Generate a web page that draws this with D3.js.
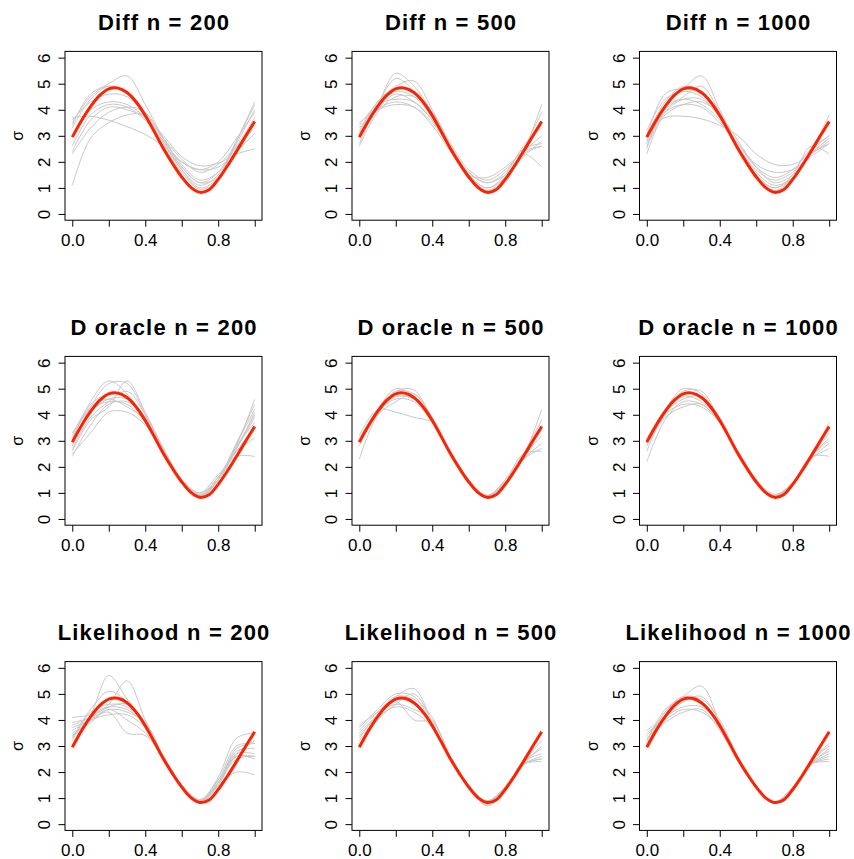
<!DOCTYPE html>
<html><head><meta charset="utf-8">
<script src="https://cdn.jsdelivr.net/npm/d3@7"></script>
<style>body{margin:0;background:#fff} svg{display:block}</style>
</head><body>
<svg id="c" width="854" height="859"></svg>
<script>
// ---------- data ----------
const methods = ["Diff", "D oracle", "Likelihood"];
const sizes = [200, 500, 1000];
const yTicks = [0, 1, 2, 3, 4, 5, 6];
const xTicks = [0, 0.2, 0.4, 0.6, 0.8, 1.0];
const xTickLabels = ["0.0", "", "0.4", "", "0.8", ""];
const yLabel = "σ";

// true sigma curve (red)
const truthX = [0, 0.05, 0.1, 0.15, 0.2, 0.25, 0.3, 0.35, 0.4, 0.45, 0.5, 0.55, 0.6, 0.65, 0.7, 0.75, 0.8, 0.85, 0.9, 0.95, 1.0];
const truthY = [2.95, 3.58, 4.12, 4.55, 4.8, 4.83, 4.66, 4.3, 3.78, 3.15, 2.5, 1.93, 1.42, 1.02, 0.83, 0.93, 1.33, 1.84, 2.4, 2.98, 3.55];

// estimated curves (grey), sampled at estX
const estX = [0, 0.1, 0.2, 0.3, 0.4, 0.5, 0.6, 0.7, 0.8, 0.9, 1.0];

const diff200 = [
  [3.5, 4.5, 5.0, 5.3, 4.2, 2.9, 1.9, 1.3, 1.6, 2.6, 3.7],
  [3.3, 4.4, 4.9, 4.7, 3.9, 2.7, 1.7, 1.1, 1.5, 2.7, 4.0],
  [3.6, 4.3, 4.6, 4.5, 3.8, 2.7, 1.8, 1.2, 1.6, 2.8, 4.2],
  [3.0, 4.0, 4.3, 4.2, 3.7, 2.9, 2.1, 1.6, 1.9, 2.6, 3.3],
  [2.6, 3.8, 4.2, 4.1, 3.6, 2.8, 2.0, 1.7, 2.0, 2.9, 3.9],
  [2.4, 3.6, 4.1, 4.0, 3.7, 3.0, 2.2, 1.85, 1.95, 2.3, 2.5],
  [3.7, 3.75, 3.6, 3.35, 3.05, 2.6, 2.0, 1.7, 1.8, 2.4, 3.1],
  [1.1, 2.9, 3.5, 3.8, 3.8, 2.9, 1.8, 1.2, 1.4, 2.5, 3.5],
  [2.3, 3.3, 3.9, 4.1, 3.9, 2.8, 1.7, 1.0, 1.4, 2.8, 4.3],
  [3.4, 4.6, 4.9, 4.6, 3.8, 2.6, 1.6, 0.95, 1.3, 2.5, 3.6]
];
const diff500 = [
  [3.3, 4.2, 5.4, 4.9, 3.9, 2.6, 1.6, 1.2, 1.6, 2.5, 2.7],
  [3.0, 4.1, 4.7, 4.5, 3.7, 2.6, 1.5, 0.9, 1.4, 2.5, 3.9],
  [2.6, 3.9, 4.5, 4.5, 3.9, 2.7, 1.7, 1.3, 1.7, 2.4, 2.6],
  [3.5, 4.0, 4.2, 4.1, 3.5, 2.5, 1.5, 1.0, 1.5, 2.6, 3.3],
  [3.2, 4.3, 4.9, 5.1, 4.0, 2.6, 1.5, 0.9, 1.3, 2.4, 4.2],
  [2.9, 4.0, 4.6, 4.3, 3.6, 2.5, 1.6, 1.2, 1.5, 2.2, 2.8],
  [3.4, 4.2, 4.4, 4.3, 3.6, 2.5, 1.5, 0.8, 1.3, 2.3, 1.8],
  [3.1, 4.3, 4.8, 4.6, 3.8, 2.6, 1.5, 1.0, 1.4, 2.3, 2.6],
  [2.7, 4.0, 4.3, 4.1, 3.4, 2.4, 1.5, 1.4, 1.8, 2.4, 3.0],
  [3.0, 4.2, 5.2, 4.7, 3.7, 2.5, 1.4, 0.8, 1.2, 2.5, 3.4]
];
const diff1000 = [
  [2.9, 4.2, 4.8, 5.3, 4.0, 2.6, 1.5, 0.9, 1.3, 2.4, 3.8],
  [3.0, 4.6, 4.8, 4.6, 3.8, 2.6, 1.5, 1.0, 1.4, 2.4, 3.0],
  [2.6, 3.8, 4.2, 4.3, 3.8, 2.8, 1.8, 1.2, 1.5, 2.3, 2.9],
  [3.1, 3.7, 3.75, 3.65, 3.4, 3.0, 2.3, 1.9, 1.9, 2.3, 2.8],
  [2.3, 3.9, 4.4, 4.4, 3.7, 2.6, 1.7, 1.3, 1.6, 2.3, 2.7],
  [3.2, 4.4, 4.7, 4.5, 3.7, 2.7, 1.8, 1.4, 1.7, 2.5, 3.0],
  [2.8, 4.0, 4.5, 4.9, 3.9, 2.6, 1.5, 1.0, 1.5, 2.6, 2.3],
  [2.5, 4.1, 4.4, 4.2, 3.6, 2.6, 1.6, 1.1, 1.4, 2.3, 2.9],
  [3.0, 4.3, 4.9, 4.7, 3.8, 2.5, 1.4, 0.9, 1.4, 2.5, 3.6],
  [2.7, 3.9, 4.2, 4.1, 3.5, 2.7, 1.9, 1.6, 1.7, 2.2, 2.7]
];
const oracle200 = [
  [2.9, 4.3, 5.2, 5.2, 4.0, 2.6, 1.5, 0.9, 1.5, 2.8, 4.6],
  [2.5, 3.3, 4.1, 4.1, 3.6, 2.6, 1.5, 1.0, 1.6, 2.9, 4.2],
  [3.2, 4.4, 4.8, 4.7, 3.8, 2.5, 1.4, 0.85, 1.5, 2.7, 4.0],
  [2.4, 3.6, 4.4, 4.5, 3.9, 2.7, 1.5, 0.9, 1.6, 2.6, 3.5],
  [3.1, 4.3, 4.6, 4.3, 3.8, 2.6, 1.5, 1.0, 1.7, 2.4, 2.4],
  [3.0, 4.5, 5.3, 4.8, 3.7, 2.5, 1.4, 0.8, 1.5, 2.9, 4.4],
  [2.7, 3.9, 4.5, 4.9, 4.0, 2.6, 1.4, 0.9, 1.5, 2.7, 3.9],
  [3.3, 4.2, 4.5, 4.4, 3.7, 2.6, 1.5, 0.95, 1.6, 2.6, 3.1],
  [2.6, 3.8, 4.3, 5.3, 4.1, 2.7, 1.5, 0.9, 1.5, 2.8, 3.7],
  [2.8, 4.1, 4.6, 4.6, 3.9, 2.6, 1.5, 0.9, 1.5, 2.7, 4.1]
];
const oracle500 = [
  [2.95, 4.15, 4.9, 4.95, 3.8, 2.5, 1.45, 0.85, 1.4, 2.4, 3.6],
  [3.2, 4.2, 4.1, 3.9, 3.7, 2.5, 1.5, 0.9, 1.5, 2.5, 2.6],
  [2.3, 4.0, 4.7, 4.6, 3.8, 2.6, 1.5, 0.9, 1.4, 2.3, 2.9],
  [3.0, 4.2, 4.9, 4.8, 3.9, 2.5, 1.4, 0.8, 1.3, 2.4, 4.2],
  [2.8, 4.1, 4.6, 4.5, 3.7, 2.5, 1.5, 0.9, 1.4, 2.4, 3.2],
  [3.1, 4.2, 5.0, 4.7, 3.8, 2.5, 1.4, 0.85, 1.4, 2.5, 3.8],
  [2.9, 4.0, 4.5, 4.8, 3.9, 2.6, 1.5, 0.9, 1.4, 2.3, 2.7],
  [3.0, 4.1, 4.7, 4.6, 3.8, 2.5, 1.45, 0.9, 1.5, 2.5, 3.4]
];
const oracle1000 = [
  [2.9, 4.1, 4.8, 4.7, 3.8, 2.5, 1.45, 0.85, 1.35, 2.4, 3.7],
  [2.2, 3.8, 4.5, 4.4, 3.7, 2.5, 1.5, 0.9, 1.4, 2.4, 2.4],
  [3.1, 4.2, 5.0, 4.8, 3.8, 2.5, 1.45, 0.85, 1.4, 2.4, 3.0],
  [2.8, 3.9, 4.3, 4.4, 3.7, 2.6, 1.5, 0.9, 1.4, 2.3, 2.7],
  [3.0, 4.1, 4.6, 4.7, 3.9, 2.55, 1.45, 0.85, 1.35, 2.35, 3.3],
  [2.6, 4.0, 4.4, 4.3, 3.7, 2.6, 1.5, 0.95, 1.4, 2.3, 2.9],
  [3.0, 4.2, 4.9, 4.9, 3.8, 2.5, 1.4, 0.85, 1.4, 2.5, 3.5],
  [2.9, 4.1, 4.7, 4.5, 3.8, 2.5, 1.45, 0.9, 1.4, 2.4, 3.1]
];
const lik200 = [
  [3.3, 4.2, 5.7, 4.8, 3.9, 2.6, 1.5, 0.9, 1.8, 3.3, 3.5],
  [3.8, 4.1, 4.6, 5.5, 4.0, 2.6, 1.5, 0.9, 1.6, 2.9, 3.1],
  [4.1, 4.2, 4.5, 4.4, 3.8, 2.6, 1.5, 0.95, 1.7, 2.6, 2.6],
  [3.5, 3.9, 4.4, 4.0, 3.5, 2.6, 1.5, 0.85, 1.6, 2.7, 2.7],
  [3.6, 4.0, 4.3, 3.5, 3.4, 2.5, 1.4, 0.8, 1.5, 2.6, 2.5],
  [3.3, 4.4, 5.1, 4.7, 3.8, 2.5, 1.4, 0.9, 1.7, 3.0, 3.1],
  [3.9, 4.1, 4.5, 4.6, 3.7, 2.5, 1.5, 0.9, 1.5, 2.0, 1.9],
  [3.4, 4.0, 4.4, 4.3, 3.9, 2.6, 1.5, 0.9, 1.6, 2.8, 2.9],
  [3.2, 4.3, 4.6, 4.5, 3.8, 2.5, 1.4, 0.85, 1.5, 2.7, 3.2],
  [3.7, 4.0, 4.2, 4.2, 3.7, 2.6, 1.5, 0.9, 1.6, 2.5, 2.6]
];
const lik500 = [
  [3.5, 4.2, 4.9, 5.2, 3.9, 2.5, 1.45, 0.85, 1.4, 2.3, 2.6],
  [3.8, 4.3, 4.8, 4.6, 3.8, 2.5, 1.45, 0.7, 1.3, 2.3, 2.5],
  [3.2, 4.1, 4.7, 4.0, 3.9, 2.6, 1.5, 0.9, 1.4, 2.4, 3.2],
  [3.6, 4.3, 4.9, 4.8, 4.1, 2.5, 1.45, 0.8, 1.4, 2.3, 2.4],
  [3.0, 4.0, 4.6, 5.0, 3.9, 2.5, 1.4, 0.85, 1.4, 2.4, 2.9],
  [3.4, 4.1, 4.5, 4.3, 3.7, 2.5, 1.5, 0.9, 1.45, 2.3, 2.5],
  [3.7, 4.4, 5.0, 4.9, 3.8, 2.5, 1.4, 0.75, 1.35, 2.4, 2.7],
  [3.3, 4.2, 4.6, 4.4, 4.0, 2.6, 1.5, 0.85, 1.4, 2.3, 3.0]
];
const lik1000 = [
  [3.2, 4.4, 4.9, 5.3, 3.9, 2.5, 1.45, 0.85, 1.35, 2.3, 2.9],
  [3.5, 4.0, 4.4, 4.3, 3.7, 2.4, 1.4, 0.85, 1.35, 2.3, 2.6],
  [3.0, 4.3, 4.8, 4.6, 3.8, 2.5, 1.45, 0.8, 1.35, 2.4, 3.1],
  [3.6, 4.1, 4.7, 4.9, 3.9, 2.5, 1.45, 0.85, 1.4, 2.3, 2.5],
  [3.3, 3.9, 4.3, 4.4, 3.6, 2.4, 1.4, 0.85, 1.35, 2.35, 2.8],
  [3.1, 4.2, 4.8, 4.8, 4.0, 2.55, 1.45, 0.85, 1.4, 2.3, 2.4],
  [3.4, 4.1, 4.5, 4.5, 3.8, 2.5, 1.4, 0.8, 1.35, 2.4, 3.0],
  [3.2, 4.3, 4.9, 4.6, 3.9, 2.5, 1.45, 0.85, 1.4, 2.3, 2.7]
];

const panelCurves = [
  [diff200, diff500, diff1000],
  [oracle200, oracle500, oracle1000],
  [lik200, lik500, lik1000]
];

// ---------- layout ----------
const colLeft = [65, 352, 639.5];
const rowTop = [51.4, 356.4, 661.6];
const pw = 197, ph = 168.8;
const FONT = "'Liberation Sans', Arial, Helvetica, sans-serif";
const greyCol = "#c8c8c8", redCol = "#ff2200";

const svg = d3.select("#c");
svg.append("rect").attr("width", 854).attr("height", 859).attr("fill", "#fff");

methods.forEach((m, r) => {
  sizes.forEach((n, c) => {
    const left = colLeft[c], top = rowTop[r];
    const x = d3.scaleLinear().domain([-0.04, 1.04]).range([left, left + pw]);
    const y = d3.scaleLinear().domain([-0.24, 6.24]).range([top + ph, top]);
    const g = svg.append("g");

    const gLine = d3.line().x(d => x(d[0])).y(d => y(d[1])).curve(d3.curveCatmullRom.alpha(0.5));

    panelCurves[r][c].forEach(vals => {
      g.append("path")
        .datum(estX.map((xv, i) => [xv, vals[i]]))
        .attr("d", gLine)
        .attr("fill", "none")
        .attr("stroke", greyCol)
        .attr("stroke-width", 1);
    });

    g.append("path")
      .datum(truthX.map((xv, i) => [xv, truthY[i]]))
      .attr("d", gLine)
      .attr("fill", "none")
      .attr("stroke", redCol)
      .attr("stroke-width", 3)
      .attr("stroke-linejoin", "round");

    // box
    g.append("rect")
      .attr("x", left).attr("y", top).attr("width", pw).attr("height", ph)
      .attr("fill", "none").attr("stroke", "#000").attr("stroke-width", 1);

    // y axis
    const ya = g.append("g").attr("transform", `translate(${left},0)`)
      .call(d3.axisLeft(y).tickValues(yTicks).tickSize(6.5).tickFormat(d3.format("d")));
    ya.select(".domain").remove();
    ya.selectAll("line").attr("stroke", "#000");
    ya.selectAll("text")
      .attr("x", null).attr("dy", null)
      .attr("transform", "translate(-15,0) rotate(-90)")
      .attr("text-anchor", "middle")
      .attr("fill", "#000")
      .style("font-family", FONT).style("font-size", "17px");

    // x axis
    const xa = g.append("g").attr("transform", `translate(0,${top + ph})`)
      .call(d3.axisBottom(x).tickValues(xTicks).tickSize(6.5).tickFormat((d, i) => xTickLabels[i]));
    xa.select(".domain").remove();
    xa.selectAll("line").attr("stroke", "#000");
    xa.selectAll("text")
      .attr("y", 25.5).attr("dy", null)
      .attr("fill", "#000")
      .style("font-family", FONT).style("font-size", "17px");

    // y label
    g.append("text")
      .attr("transform", `translate(${left - 42},${top + ph / 2}) rotate(-90)`)
      .attr("text-anchor", "middle")
      .style("font-family", FONT).style("font-size", "16px")
      .text(yLabel);

    // title
    g.append("text")
      .attr("x", left + pw / 2 + 0.6).attr("y", top - 21.4)
      .attr("text-anchor", "middle")
      .style("font-family", FONT).style("font-size", "22px").style("font-weight", "bold")
      .style("letter-spacing", "1.2px")
      .text(`${m} n = ${n}`);
  });
});
</script>
</body></html>
